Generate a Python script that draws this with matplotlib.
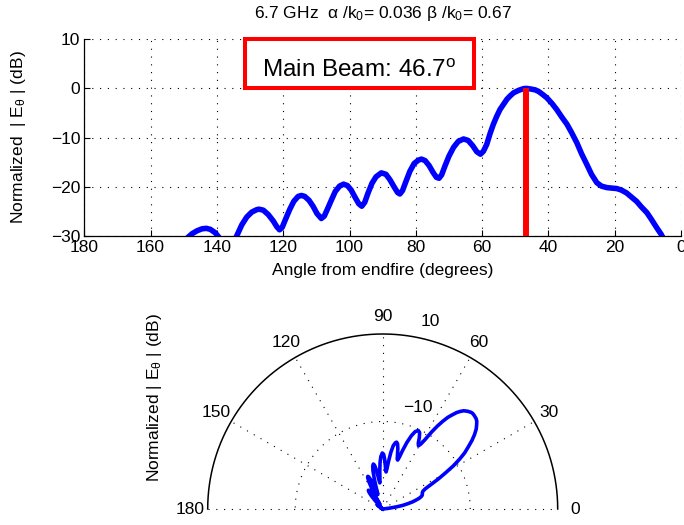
import numpy as np
import matplotlib
matplotlib.use("Agg")
import matplotlib.pyplot as plt
from matplotlib.patches import Rectangle

plt.rcParams['font.family'] = ['Liberation Sans', 'DejaVu Sans']
plt.rcParams['mathtext.fontset'] = 'custom'
plt.rcParams['mathtext.rm'] = 'Liberation Sans'
plt.rcParams['mathtext.it'] = 'Liberation Sans:italic'
plt.rcParams['axes.unicode_minus'] = True

# Radiation pattern of the leaky-wave antenna (angle from endfire, normalized |E_theta| in dB)
angle_deg = np.array([
    149.0, 147.5, 146.0, 144.5, 143.2, 142.0, 140.5, 139.2, 137.0,
    134.2, 132.5, 131.0, 129.5, 128.0, 127.3, 126.0, 124.5, 123.0, 121.9,
    121.1, 120.3, 119.2, 118.0, 116.8, 115.5, 114.5, 113.5, 112.2, 111.0,
    109.8, 108.5, 107.6, 106.6, 105.5, 104.3, 103.0, 101.8, 100.6, 99.5,
    98.3, 97.2, 96.3, 95.4, 94.4, 93.2, 92.0, 90.4, 89.0, 87.8,
    86.6, 85.5, 84.8, 84.0, 83.0, 81.8, 80.5, 79.2, 78.3, 77.2,
    76.0, 74.8, 73.8, 73.0, 72.2, 71.2, 70.0, 68.6, 67.2, 65.6,
    64.2, 62.8, 61.6, 60.5, 59.6, 58.6, 57.6, 56.6, 55.6, 54.6,
    53.5, 52.5, 51.5, 50.5, 49.0, 47.5, 46.7, 45.5, 44.0, 43.0,
    41.8, 40.5, 39.0, 37.5, 36.0, 34.4, 33.0, 31.4, 30.0, 28.4,
    27.0, 25.4, 24.0, 22.4, 21.0, 19.4, 18.0, 16.4, 15.0, 13.4,
    12.0, 10.3, 9.0, 7.3, 6.0, 5.0,
])
gain_db = np.array([
    -30.5, -29.6, -29.0, -28.6, -28.5, -28.7, -29.4, -30.5, -36.0,
    -30.3, -27.8, -26.2, -25.2, -24.7, -24.6, -24.8, -25.7, -27.0, -28.2,
    -28.8, -28.3, -26.5, -24.6, -23.0, -22.0, -21.8, -22.0, -22.8, -24.0,
    -25.5, -26.5, -26.0, -24.5, -22.8, -21.0, -19.9, -19.5, -19.8, -20.7,
    -22.2, -23.5, -24.0, -23.2, -21.3, -19.3, -18.0, -17.2, -17.5, -18.6,
    -20.0, -21.2, -21.5, -20.8, -19.0, -16.9, -15.3, -14.6, -14.4, -14.7,
    -15.7, -17.1, -18.1, -18.3, -17.6, -15.8, -13.8, -12.0, -10.8, -10.3,
    -10.6, -11.7, -12.9, -13.4, -12.8, -11.4, -9.2, -7.3, -5.7, -4.3,
    -3.2, -2.2, -1.5, -0.9, -0.4, -0.05, 0.0, -0.1, -0.3, -0.6,
    -1.2, -1.9, -3.0, -4.3, -5.8, -7.3, -9.0, -11.1, -13.3, -15.5,
    -17.5, -19.2, -19.9, -20.2, -20.3, -20.4, -20.7, -21.3, -22.1, -23.0,
    -24.1, -25.3, -26.6, -28.4, -29.7, -31.0,
])

main_beam_deg = 46.7
db_floor = -30.0
db_top = 10.0

x_ticks = [180, 160, 140, 120, 100, 80, 60, 40, 20, 0]
y_ticks = [10, 0, -10, -20, -30]
spoke_deg = [30, 60, 90, 120, 150]
angle_label_deg = [0, 30, 60, 90, 120, 150, 180]
ring_db = [-10, 10]

title_text = r"6.7 GHz  α /k$_0$= 0.036 β /k$_0$= 0.67"
xlabel_text = "Angle from endfire (degrees)"
ylabel_top = r"Normalized  | E$_\mathrm{θ}$ | (dB)"
ylabel_polar = r"Normalized | E$_\mathrm{θ}$ | (dB)"

FS = 12.5
DOT = (0, (1, 6))

W, H = 684, 525
fig = plt.figure(figsize=(W / 100, H / 100), dpi=100)


def px_box(x0, y0, x1, y1):
    return [x0 / W, 1 - y1 / H, (x1 - x0) / W, (y1 - y0) / H]


# ---------------- Cartesian pattern ----------------
ax = fig.add_axes(px_box(84.3, 39.3, 681.0, 235.7))
ax.plot(angle_deg, gain_db, color='blue', lw=4.0, zorder=3)
peak_db = gain_db.max()
ax.plot([main_beam_deg, main_beam_deg], [db_floor, peak_db], color='red',
        lw=4.3, solid_capstyle='butt', zorder=4)
ax.set_xlim(180, 0)
ax.set_ylim(db_floor, db_top)
ax.set_xticks(x_ticks)
ax.set_yticks(y_ticks)
ax.grid(True, color='black', linestyle=DOT, lw=0.8)
for side in ('top', 'right'):
    ax.spines[side].set_visible(False)
for side in ('left', 'bottom'):
    ax.spines[side].set_linewidth(0.9)
ax.tick_params(direction='in', length=4, width=0.8, labelsize=FS, pad=3)
ax.set_xlabel(xlabel_text, fontsize=FS, labelpad=6)
ax.set_title(title_text, fontsize=FS, pad=15)
fig.text(19 / W, 1 - 137.5 / H, ylabel_top, rotation=90, ha='center',
         va='center', fontsize=FS)

box_x0, box_x1 = 0.2685, 0.6528
ax.add_patch(Rectangle((box_x0, 0.75), box_x1 - box_x0, 0.25,
                       transform=ax.transAxes, facecolor='white',
                       edgecolor='red', lw=2.9, clip_on=False, zorder=5))
ax.text((box_x0 + box_x1) / 2, 0.8065,
        r"Main Beam: %.1f$^{\mathrm{o}}$" % main_beam_deg,
        transform=ax.transAxes, ha='center', va='baseline',
        fontsize=17.5, zorder=6)

# ---------------- MATLAB-style half polar plot ----------------
pax = fig.add_axes(px_box(172.7, 299.0, 592.7, 524.75))
pax.set_xlim(-48, 48)
pax.set_ylim(-3.6, 48)
pax.axis('off')

R = db_top - db_floor
t = np.linspace(0, np.pi, 361)
pax.plot(R * np.cos(t), R * np.sin(t), color='black', lw=1.1)
for d in ring_db[:-1]:
    r = d - db_floor
    pax.plot(r * np.cos(t), r * np.sin(t), color='black', linestyle=DOT, lw=0.8)
pax.plot([-R, R], [0, 0], color='black', linestyle=DOT, lw=0.8)
for a in spoke_deg:
    ar = np.deg2rad(a)
    pax.plot([0, R * np.cos(ar)], [0, R * np.sin(ar)], color='black',
             linestyle=DOT, lw=0.8)
for a in angle_label_deg:
    ar = np.deg2rad(a)
    pax.text(1.1 * R * np.cos(ar), 1.1 * R * np.sin(ar), str(a),
             ha='center', va='center', fontsize=FS)
lab_ang = np.deg2rad(78)
for d in ring_db:
    r = d - db_floor + 2
    pax.text(r * np.cos(lab_ang), r * np.sin(lab_ang), str(d).replace('-', '\u2212'),
             ha='left', va='bottom', fontsize=FS)

rho = np.clip(gain_db - db_floor, 0, None)
th = np.deg2rad(angle_deg)
pax.plot(rho * np.cos(th), rho * np.sin(th), color='blue', lw=2.6, zorder=3)

fig.text(155 / W, 1 - 398 / H, ylabel_polar, rotation=90, ha='center',
         va='center', fontsize=FS)

fig.savefig('out.png', dpi=100)
